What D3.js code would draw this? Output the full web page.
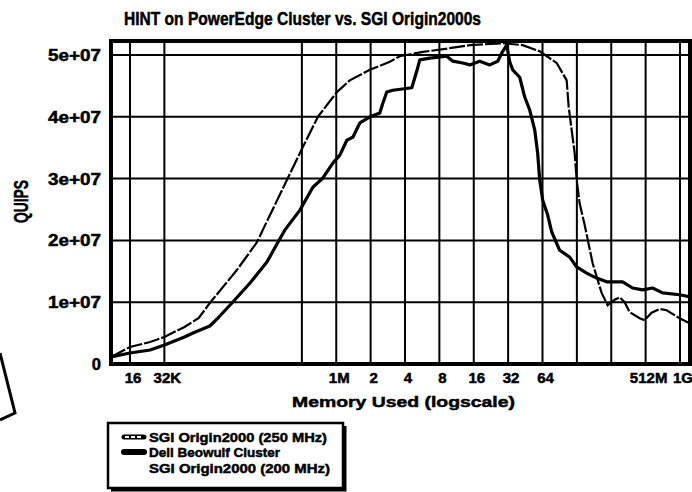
<!DOCTYPE html>
<html>
<head>
<meta charset="utf-8">
<script src="https://cdn.jsdelivr.net/npm/d3@7"></script>
<style>
  body { margin: 0; background: #fff; }
  text { font-family: "Liberation Sans", Arial, sans-serif; font-weight: bold; fill: #000; stroke: #000; stroke-width: 0.5px; }
</style>
</head>
<body>
<div id="graph"></div>
<script>
// memory in KB, QUIPS in millions
const sgi250Mem = [10.9, 16, 24, 32, 48, 64, 80, 96, 138, 207, 233, 386, 522, 707, 1037, 1347, 2016, 3016, 3688, 5860, 10100, 15120, 29390, 43970, 61940, 87250, 106700, 111100, 125400, 130500, 138600, 153400, 180200, 199300, 216000, 243800, 280600, 310400, 343300, 379700, 464600, 513600, 591300, 695000, 800000, 1040000, 1272600];
const sgi250Quips = [1.13, 2.75, 3.56, 4.37, 5.99, 7.44, 9.87, 11.65, 15.2, 19.7, 21.7, 30.1, 35.1, 40.0, 44.0, 45.9, 47.6, 48.9, 49.8, 50.5, 51.1, 51.6, 51.9, 51.6, 50.6, 48.7, 45.9, 41.6, 34.1, 29.8, 26.0, 22.5, 16.3, 13.6, 11.5, 9.5, 10.4, 10.8, 10.0, 8.4, 7.4, 7.1, 8.3, 8.9, 8.7, 7.4, 6.6];

const dellMem = [10.9, 16, 24, 32, 48, 57, 80, 96, 125, 180, 253, 316, 364, 492, 639, 782, 956, 1101, 1268, 1431, 1648, 2016, 2464, 2619, 2838, 3203, 4699, 5195, 5518, 6750, 9509, 10730, 13130, 15120, 18480, 22610, 26580, 29390, 31860, 33840, 35950, 41390, 45790, 50640, 56000, 59470, 61940, 65810, 72770, 78850, 92680, 113400, 130500, 159600, 195300, 238900, 329800, 403300, 493400, 603200, 738100, 1040000, 1325000];
const dellQuips = [1.13, 1.78, 2.27, 3.07, 4.37, 5.02, 6.15, 7.6, 9.87, 13.1, 16.5, 19.7, 21.7, 24.9, 28.6, 30.1, 32.5, 33.8, 36.2, 36.7, 39.0, 40.0, 40.6, 42.2, 44.0, 44.3, 44.7, 47.4, 49.2, 49.5, 49.8, 49.0, 48.7, 48.4, 49.0, 48.4, 49.0, 50.6, 51.6, 48.9, 47.6, 46.4, 43.2, 41.1, 37.9, 34.1, 29.8, 26.5, 24.1, 21.4, 18.4, 17.3, 15.7, 14.7, 13.9, 13.3, 13.3, 12.3, 12.0, 12.3, 11.5, 11.2, 10.8];

const gridMem = [16, 32, 512, 1024, 2048, 4096, 8192, 16384, 32768, 65536, 131072, 262144, 524288, 1048576];
const gridMemLabels = ["16", "32K", "", "1M", "2", "4", "8", "16", "32", "64", "", "", "512M", "1G"];
const quipsTicks = [0, 1e7, 2e7, 3e7, 4e7, 5e7];
const quipsLabels = ["0", "1e+07", "2e+07", "3e+07", "4e+07", "5e+07"];

const legendNames = ["SGI Origin2000 (250 MHz)", "Dell Beowulf Cluster", "SGI Origin2000 (200 MHz)"];

let W = 692, H = 492;
let pLeft = 111, pRight = 690, pTop = 41, pBottom = 364;

let svg = d3.select("#graph").append("svg")
    .attr("width", W).attr("height", H);

let x = d3.scaleLog().base(2)
    .domain([16, 1048576])
    .range([130, 680]);

let y = d3.scaleLinear()
    .domain([0, 5e7])
    .range([pBottom, 55]);

svg.append("clipPath").attr("id", "plot")
  .append("rect").attr("x", pLeft).attr("y", pTop).attr("width", pRight - pLeft).attr("height", pBottom - pTop);

// grid
svg.append("g").selectAll("line").data(gridMem).join("line")
    .attr("x1", d => x(d)).attr("x2", d => x(d))
    .attr("y1", pTop).attr("y2", pBottom)
    .attr("stroke", "#000").attr("stroke-width", 2);
svg.append("g").selectAll("line").data(quipsTicks.slice(1)).join("line")
    .attr("x1", pLeft).attr("x2", pRight)
    .attr("y1", d => y(d)).attr("y2", d => y(d))
    .attr("stroke", "#000").attr("stroke-width", 2);

// frame
svg.append("rect")
    .attr("x", pLeft).attr("y", pTop)
    .attr("width", pRight - pLeft).attr("height", pBottom - pTop)
    .attr("fill", "none").attr("stroke", "#000").attr("stroke-width", 4);

// ticks
svg.append("g").selectAll("text").data(quipsTicks).join("text")
    .attr("x", 101).attr("y", d => y(d) + 6)
    .attr("text-anchor", "end")
    .attr("textLength", d => d === 0 ? null : 53)
    .attr("lengthAdjust", "spacingAndGlyphs")
    .style("font-size", "16.5px")
    .text((d, i) => quipsLabels[i]);

svg.append("g").selectAll("text").data(gridMem).join("text")
    .attr("x", d => x(d) + 3).attr("y", 383)
    .attr("text-anchor", "middle")
    .style("font-size", "15px")
    .text((d, i) => gridMemLabels[i]);

// lines
let line = d3.line().x(d => x(d[0])).y(d => y(d[1] * 1e6));
let g = svg.append("g").attr("clip-path", "url(#plot)");

g.append("path")
    .datum(sgi250Mem.map((m, i) => [m, sgi250Quips[i]]))
    .attr("d", line)
    .attr("fill", "none").attr("stroke", "#000")
    .attr("stroke-width", 2.2)
    .attr("stroke-dasharray", "16,2");

g.append("path")
    .datum(dellMem.map((m, i) => [m, dellQuips[i]]))
    .attr("d", line)
    .attr("fill", "none").attr("stroke", "#000")
    .attr("stroke-width", 3.2)
    .attr("stroke-linejoin", "round");

// titles
svg.append("text").attr("x", 124).attr("y", 25)
    .attr("textLength", 357).attr("lengthAdjust", "spacingAndGlyphs")
    .style("font-size", "19px")
    .text("HINT on PowerEdge Cluster vs. SGI Origin2000s");

svg.append("text").attr("x", 292).attr("y", 407)
    .attr("textLength", 223).attr("lengthAdjust", "spacingAndGlyphs")
    .style("font-size", "15.5px")
    .text("Memory Used (logscale)");

svg.append("text")
    .attr("transform", "translate(28,223) rotate(-90)")
    .attr("textLength", 43).attr("lengthAdjust", "spacingAndGlyphs")
    .style("font-size", "21px")
    .text("QUIPS");

// legend
let lg = svg.append("g");
lg.append("path")
    .attr("d", "M345,426 V490 H111")
    .attr("fill", "none").attr("stroke", "#000").attr("stroke-width", 3);
lg.append("rect")
    .attr("x", 108).attr("y", 423).attr("width", 235).attr("height", 65)
    .attr("fill", "#fff").attr("stroke", "#000").attr("stroke-width", 2.5);

let legendLen = [178, 131, 181];
let legendY = [442, 457, 473];
lg.selectAll("text").data(legendNames).join("text")
    .attr("x", 149).attr("y", (d, i) => legendY[i])
    .attr("textLength", (d, i) => legendLen[i]).attr("lengthAdjust", "spacingAndGlyphs")
    .style("font-size", "13.5px")
    .text(d => d);

lg.append("line").attr("x1", 124).attr("x2", 144).attr("y1", 437).attr("y2", 437)
    .attr("stroke", "#000").attr("stroke-width", 5).attr("stroke-linecap", "round");
lg.append("line").attr("x1", 125).attr("x2", 143).attr("y1", 437).attr("y2", 437)
    .attr("stroke", "#fff").attr("stroke-width", 2).attr("stroke-dasharray", "4,2");
lg.append("line").attr("x1", 124).attr("x2", 144).attr("y1", 452).attr("y2", 452)
    .attr("stroke", "#000").attr("stroke-width", 6).attr("stroke-linecap", "round");

// leftover stroke from the scan
svg.append("path")
    .attr("d", "M0,353 L15,413 L0,420")
    .attr("fill", "none").attr("stroke", "#000").attr("stroke-width", 3);
</script>
</body>
</html>
